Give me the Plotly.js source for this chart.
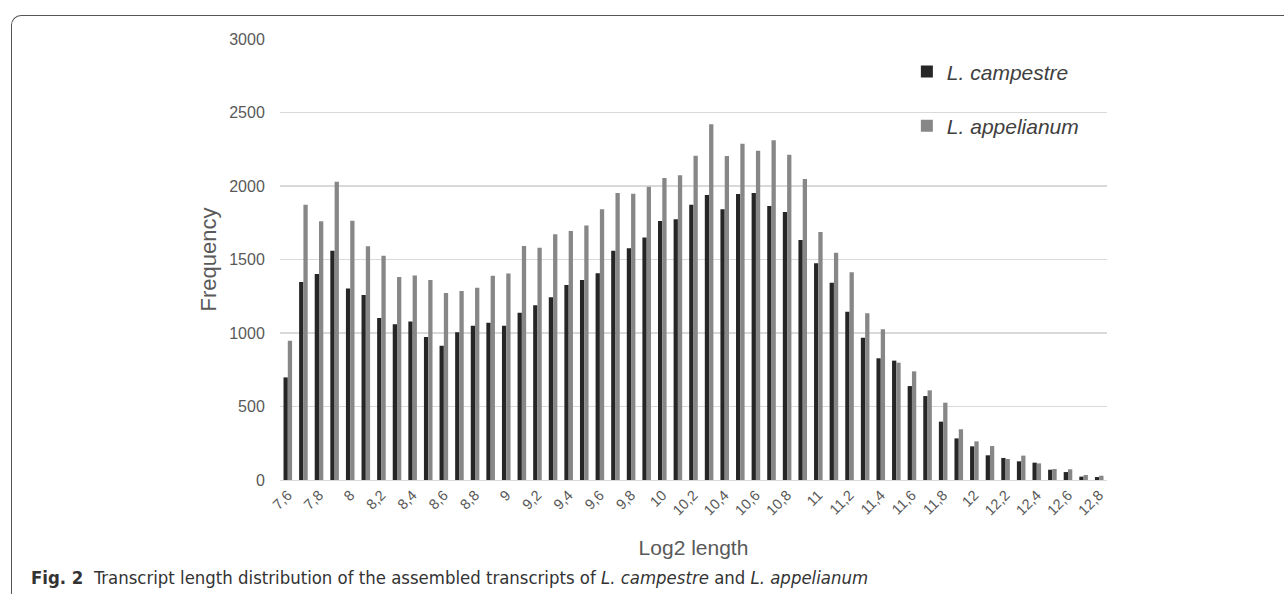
<!DOCTYPE html>
<html>
<head>
<meta charset="utf-8">
<script src="https://cdn.plot.ly/plotly-3.0.1.min.js"></script>
<style>
html,body{margin:0;padding:0;background:#fff;}
#wrap{position:relative;width:1284px;height:594px;overflow:hidden;}
#frame{position:absolute;left:11px;top:15px;width:1300px;height:600px;border-top:1.5px solid #555;border-left:1.5px solid #555;border-top-left-radius:10px;pointer-events:none;}
#chart{position:absolute;left:0;top:0;width:1284px;height:594px;}
</style>
</head>
<body>
<div id="wrap">
<div id="chart"></div>
<div id="frame"></div>
</div>
<script>
// Log2 length categories (7.6 .. 12.8 step 0.1), labelled with decimal commas
const categories = ["7,6","7,7","7,8","7,9","8","8,1","8,2","8,3","8,4","8,5","8,6","8,7","8,8","8,9","9","9,1","9,2","9,3","9,4","9,5","9,6","9,7","9,8","9,9","10","10,1","10,2","10,3","10,4","10,5","10,6","10,7","10,8","10,9","11","11,1","11,2","11,3","11,4","11,5","11,6","11,7","11,8","11,9","12","12,1","12,2","12,3","12,4","12,5","12,6","12,7","12,8"];

const campestre = [698,1347,1401,1560,1302,1259,1102,1059,1079,973,914,1005,1050,1070,1050,1138,1188,1243,1327,1361,1406,1560,1576,1649,1762,1773,1873,1939,1841,1946,1952,1864,1823,1633,1474,1342,1145,968,828,812,639,571,397,283,229,168,150,127,118,70,54,23,20];

const appelianum = [948,1873,1760,2029,1764,1590,1526,1381,1392,1361,1272,1286,1308,1390,1404,1592,1580,1671,1694,1732,1841,1952,1948,1995,2054,2073,2206,2420,2204,2288,2240,2311,2213,2048,1687,1546,1413,1134,1025,798,739,610,526,345,263,231,143,166,113,75,73,34,29];

const tickLabels = ["7,6","7,8","8","8,2","8,4","8,6","8,8","9","9,2","9,4","9,6","9,8","10","10,2","10,4","10,6","10,8","11","11,2","11,4","11,6","11,8","12","12,2","12,4","12,6","12,8"];

const yTicks = [0,500,1000,1500,2000,2500,3000];

const traces = [
  {type:'bar', name:'<i>L. campestre</i>', x:categories, y:campestre, marker:{color:'#262626'}, legendgroup:'a'},
  {type:'bar', name:'<i>L. appelianum</i>', x:categories, y:appelianum, marker:{color:'#878787'}, legendgroup:'b'}
];

const layout = {
  width:1284, height:594,
  margin:{l:280, r:177, t:39, b:114, pad:0},
  paper_bgcolor:'rgba(0,0,0,0)', plot_bgcolor:'#fff',
  font:{family:'Liberation Sans, Arial, sans-serif', color:'#595959'},
  barmode:'group', bargap:0.45, bargroupgap:0,
  showlegend:true,
  legend:{x:0.758, y:0.972, xanchor:'left', yanchor:'top', bgcolor:'rgba(0,0,0,0)',
          font:{size:21, color:'#404040', family:'Liberation Sans, Arial, sans-serif'},
          traceorder:'grouped', tracegroupgap:24, itemwidth:30},
  xaxis:{type:'category', categoryorder:'array', categoryarray:categories,
         tickmode:'array', tickvals:tickLabels, ticktext:tickLabels, tickangle:-45,
         tickfont:{size:14.5, color:'#595959'}, ticks:'',
         showline:true, linecolor:'#d9d9d9', linewidth:1, showgrid:false, zeroline:false,
         automargin:false,
         title:{text:'Log2 length', font:{size:21, color:'#595959'}, standoff:22}},
  yaxis:{range:[0,3000], tickvals:yTicks, tickfont:{size:16, color:'#595959'},
         ticks:'outside', ticklen:11, tickcolor:'rgba(0,0,0,0)',
         showgrid:true, gridcolor:'#d9d9d9', gridwidth:1.2, zeroline:false, showline:false,
         automargin:false,
         title:{text:'Frequency', font:{size:22, color:'#595959'}, standoff:6}},
  annotations:[{
    xref:'paper', yref:'paper', x:-0.3035, y:-0.222, xanchor:'left', yanchor:'middle', showarrow:false,
    text:'<b>Fig. 2</b>  Transcript length distribution of the assembled transcripts of <i>L. campestre</i> and <i>L. appelianum</i>',
    font:{family:'Liberation Sans Narrow, DejaVu Sans Condensed, sans-serif', size:18.4, color:'#333'}
  }]
};

Plotly.newPlot('chart', traces, layout, {displayModeBar:false, staticPlot:true});
</script>
</body>
</html>
